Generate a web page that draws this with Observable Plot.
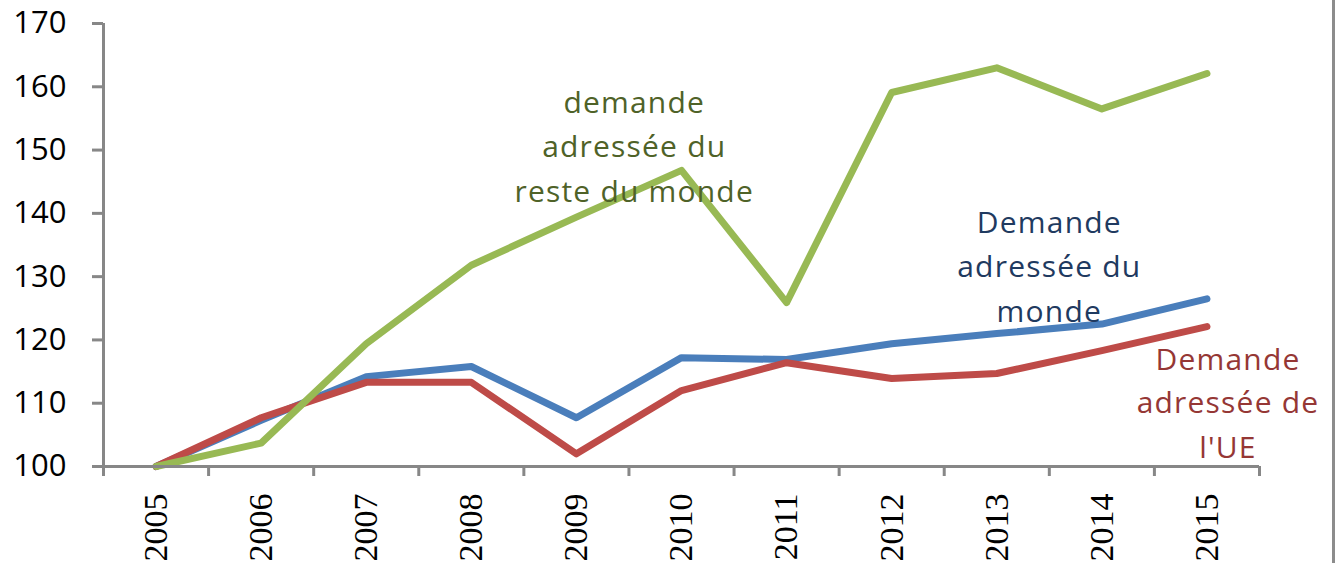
<!DOCTYPE html>
<html>
<head>
<meta charset="utf-8">
<script src="https://cdn.jsdelivr.net/npm/d3@7"></script>
<script src="https://cdn.jsdelivr.net/npm/@observablehq/plot@0.6"></script>
<style>
  html, body { margin: 0; padding: 0; background: #fff; }
  #wrap { position: relative; width: 1341px; height: 563px; overflow: hidden; }
  #frame { position: absolute; left: 1332px; top: 0; width: 3px; height: 563px; background: #8c8c8c; }
  g[aria-description="annotations"] text { letter-spacing: 1.2px; }
</style>
</head>
<body>
<div id="wrap"><div id="frame"></div></div>
<script>
const years = [2005, 2006, 2007, 2008, 2009, 2010, 2011, 2012, 2013, 2014, 2015];
const monde = [100, 107.3, 114.2, 115.8, 107.7, 117.2, 116.9, 119.4, 121.0, 122.5, 126.5];
const ue = [100, 107.7, 113.3, 113.3, 102.0, 112.0, 116.4, 113.9, 114.7, 118.3, 122.1];
const resteMonde = [100, 103.7, 119.4, 131.8, 139.4, 146.8, 125.9, 159.1, 163.0, 156.5, 162.1];
const yTicks = [100, 110, 120, 130, 140, 150, 160, 170];
const bandEdges = [2004.5, 2005.5, 2006.5, 2007.5, 2008.5, 2009.5, 2010.5, 2011.5, 2012.5, 2013.5, 2014.5, 2015.5];

const seriesNames = ["monde", "ue", "reste"];
const seriesColors = ["#4a7ebb", "#be4b48", "#98b954"];
const seriesValues = [monde, ue, resteMonde];

const rows = [];
seriesNames.forEach((s, i) => years.forEach((yr, j) => rows.push({series: s, year: yr, value: seriesValues[i][j]})));

const labelLines = [
  {series: "reste", year: 2009.55, value: 155.9, text: "demande", color: "#4f6228"},
  {series: "reste", year: 2009.55, value: 148.9, text: "adressée du", color: "#4f6228"},
  {series: "reste", year: 2009.55, value: 141.8, text: "reste du monde", color: "#4f6228"},
  {series: "monde", year: 2013.5, value: 136.9, text: "Demande", color: "#1f3a60"},
  {series: "monde", year: 2013.5, value: 129.9, text: "adressée du", color: "#1f3a60"},
  {series: "monde", year: 2013.5, value: 122.9, text: "monde", color: "#1f3a60"},
  {series: "ue", year: 2015.2, value: 115.3, text: "Demande", color: "#953735"},
  {series: "ue", year: 2015.2, value: 108.4, text: "adressée de", color: "#953735"},
  {series: "ue", year: 2015.2, value: 101.3, text: "l'UE", color: "#953735"}
];

const chart = Plot.plot({
  width: 1341,
  height: 563,
  marginLeft: 103,
  marginRight: 82,
  marginTop: 23,
  marginBottom: 97,
  style: {background: "transparent", overflow: "visible"},
  x: {domain: [2004.5, 2015.5], axis: null, label: null},
  y: {domain: [100, 170], axis: null, label: null},
  color: {domain: seriesNames, range: seriesColors},
  marks: [
    Plot.ruleX([2004.5], {stroke: "#878787", strokeWidth: 3}),
    Plot.axisY({ticks: yTicks, label: null, tickSize: 11, stroke: "#878787", strokeWidth: 3, tickFormat: () => ""}),
    Plot.text(yTicks, {y: d => d, text: d => String(d), frameAnchor: "left", dx: -37, textAnchor: "end",
      lineAnchor: "middle", fontSize: 31, fontFamily: "Open Sans", fill: "#000"}),
    Plot.line(rows, {x: "year", y: "value", z: "series", stroke: "series", strokeWidth: 7, strokeLinejoin: "round", strokeLinecap: "round"}),
    Plot.ruleY([100], {stroke: "#878787", strokeWidth: 3}),
    Plot.axisX({ticks: bandEdges, label: null, tickSize: 10, stroke: "#878787", strokeWidth: 3, tickFormat: () => ""}),
    Plot.text(years, {x: d => d, text: d => String(d), frameAnchor: "bottom", dy: 27, rotate: -90,
      textAnchor: "end", lineAnchor: "middle", fontSize: 34, fontFamily: "Liberation Serif", fill: "#000"}),
    Plot.text(labelLines, {x: "year", y: "value", text: "text", fill: "color", fontSize: 30,
      fontFamily: "Open Sans", textAnchor: "middle", lineAnchor: "bottom", ariaDescription: "annotations"})
  ]
});
document.getElementById("wrap").appendChild(chart);
</script>
</body>
</html>
